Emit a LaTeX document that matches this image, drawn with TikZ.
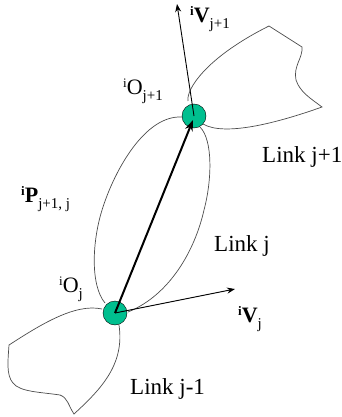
\documentclass[tikz,border=0pt]{standalone}
\usepackage{fontspec}
\setmainfont{Liberation Serif}
\usepackage{tikz}
\usetikzlibrary{arrows.meta, positioning}
\definecolor{jointgreen}{HTML}{00BF8F}
\newcommand{\lowidx}[1]{\raisebox{-6pt}{\fontsize{15}{15}\normalfont\selectfont #1}}
\newcommand{\topidx}[1]{\raisebox{7pt}{\fontsize{13}{13}\selectfont #1}}

\begin{document}
\begin{tikzpicture}[
                x=1pt, y=-1pt,
                joint/.style={draw=black, thin, circle, fill=jointgreen, inner sep=0pt, minimum size=24pt},
                outline/.style={draw=black!70, line width=0.7pt},
                axis/.style={line width=0.9pt, -{Stealth[length=8pt, width=6pt]}},
                linkvec/.style={line width=2pt, -{Stealth[length=11pt, width=8pt]}},
                linklabel/.style={font=\fontsize{23}{23}\selectfont, inner sep=0pt},
                framelabel/.style={font=\fontsize{22}{22}\selectfont, inner sep=0pt},
                veclabel/.style={font=\fontsize{22}{22}\selectfont\bfseries, inner sep=0pt}
            ]
            \useasboundingbox (0,0) rectangle (342,417);

            % Joints
            \node[joint] (Oj) at (115,313) {};
            \node[joint] (On) at (194,116) {};
            \coordinate (Vj) at (235,289);
            \coordinate (Vn) at (177,4);

            % Link outlines
            \draw[outline] (188,101) .. controls (186,90) and (205,58) .. (269,26) -- (302,47)
                .. controls (303,58) and (293,66) .. (296,80) .. controls (300,92) and (310,98) .. (322,107)
                .. controls (280,122) and (225,137) .. (203,124);
            \draw[outline] (182,117) .. controls (145,115) and (115,170) .. (103,207)
                .. controls (92,240) and (90,285) .. (105,303);
            \draw[outline] (200,127) .. controls (213,140) and (212,180) .. (204,210)
                .. controls (195,250) and (170,295) .. (128,312);
            \draw[outline] (102,309) .. controls (75,303) and (40,325) .. (9,345)
                .. controls (8,360) and (6,375) .. (13,383) .. controls (20,392) and (40,392) .. (60,395)
                .. controls (68,398) and (68,405) .. (74,414)
                .. controls (100,390) and (125,365) .. (119,325);

            % Vectors
            \draw[axis] (On.center) -- (Vn);
            \draw[axis] (Oj.center) -- (Vj);
            \draw[linkvec] (Oj.center) -- (193,120);

            % Labels
            \node[veclabel, anchor=base west] (lVn) at (190,23) {\topidx{i}V\lowidx{j+1}};
            \node[framelabel, anchor=base west] (lOn) at (123,95) {\topidx{i}O\lowidx{j+1}};
            \node[linklabel, anchor=base west] (lLn) at (262,162) {Link j+1};
            \node[veclabel, anchor=base west] (lP) at (21,202) {\topidx{i}P\lowidx{j+1, j}};
            \node[linklabel, anchor=base west] (lLj) at (214,251) {Link j};
            \node[framelabel, anchor=base west] (lOj) at (59,292) {\topidx{i}O\lowidx{j}};
            \node[veclabel, anchor=base west] (lVj) at (238,322) {\topidx{i}V\lowidx{j}};
            \node[linklabel, anchor=base west] (lLp) at (130,394) {Link j-1};

        \end{tikzpicture}
\end{document}
